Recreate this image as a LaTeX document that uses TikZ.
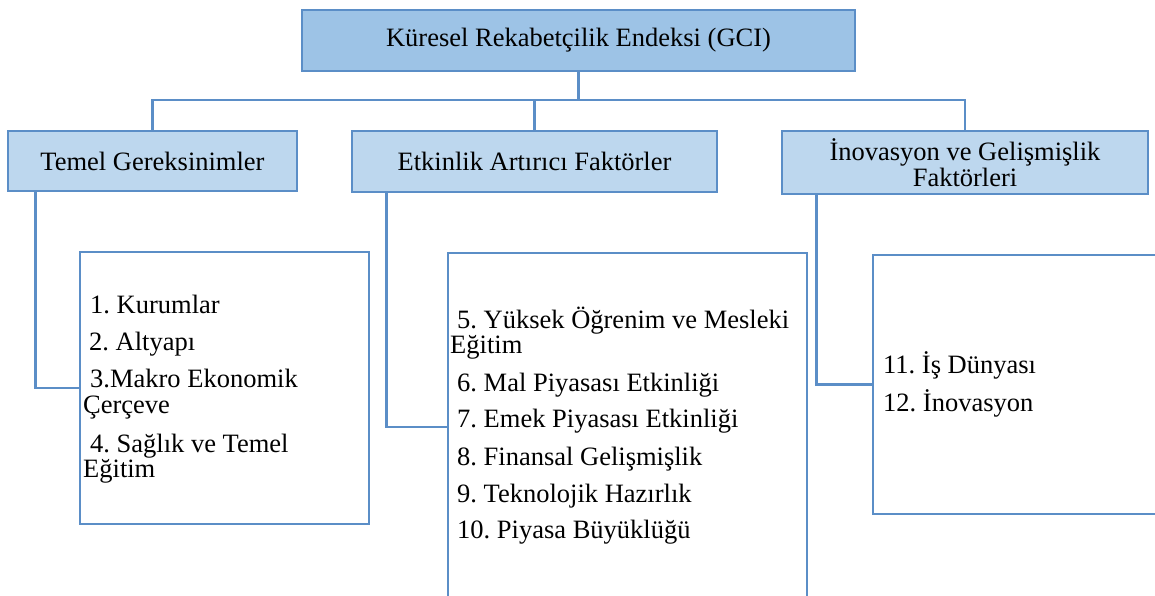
\documentclass[tikz,border=0pt]{standalone}
\usepackage{fontspec}
\setmainfont{Liberation Serif}
\usepackage{tikz}
\usetikzlibrary{positioning}
\definecolor{edgeblue}{HTML}{5B8EC7}
\definecolor{headblue}{HTML}{9DC3E6}
\definecolor{groupblue}{HTML}{BDD7EE}
\newcommand{\boxfont}{\fontsize{26.5}{26}\selectfont\frenchspacing}

\begin{document}
\begin{tikzpicture}[x=1pt,y=-1pt,
  box/.style={draw=edgeblue,line width=2.8pt,rectangle,inner sep=0pt,font=\boxfont},
  link/.style={draw=edgeblue,line width=2.8pt},
  item/.style={anchor=base west,inner sep=0pt,font=\boxfont}]
  \useasboundingbox (0,0) rectangle (1155,596);
  \clip (0,0) rectangle (1155,596);
  % top and group boxes
  \node[box,fill=headblue,minimum width=553,minimum height=61] (gci) at (578.5,40.5) {Küresel Rekabetçilik Endeksi (GCI)};
  \node[box,fill=groupblue,minimum width=289,minimum height=60] (temel) at (152.5,161) {Temel Gereksinimler};
  \node[box,fill=groupblue,minimum width=365,minimum height=61] (etkin) at (534.5,161.5) {Etkinlik Artırıcı Faktörler};
  \node[box,fill=groupblue,minimum width=366,minimum height=63,align=center] (inov) at (965,162.5) {İnovasyon ve Gelişmişlik\\Faktörleri};
  % list boxes
  \node[box,minimum width=289,minimum height=272] (listA) at (224.5,388) {};
  \node[box,minimum width=359,minimum height=348] (listB) at (627.5,427) {};
  \node[box,minimum width=297,minimum height=259] (listC) at (1021.5,384.5) {};
  % connectors
  \coordinate (bus) at (0,100);
  \draw[link] (gci.south) -- (gci.south |- bus);
  \draw[link] (temel.north) |- (inov.north |- bus) -- (inov.north);
  \draw[link] (etkin.north) -- (etkin.north |- bus);
  \draw[link] ([xshift=29]temel.south west) |- (listA.west);
  \draw[link] ([xshift=36]etkin.south west) |- (listB.west);
  \draw[link] ([xshift=36]inov.south west) |- (listC.west);
  % items
  \foreach \x/\y/\txt [count=\i] in {90/313/1. Kurumlar, 89/350/2. Altyapı,
      90/387/3.Makro Ekonomik, 83/413/Çerçeve, 90/452/4. Sağlık ve Temel, 83/477/Eğitim} {
    \node[item] (a\i) at (\x,\y) {\txt};
  }
  \foreach \x/\y/\txt [count=\i] in {457/328/5. Yüksek Öğrenim ve Mesleki, 450/353/Eğitim,
      457/391/6. Mal Piyasası Etkinliği, 457/427/7. Emek Piyasası Etkinliği,
      457/465/8. Finansal Gelişmişlik, 457/502/9. Teknolojik Hazırlık, 457/538/10. Piyasa Büyüklüğü} {
    \node[item] (b\i) at (\x,\y) {\txt};
  }
  \node[item] (c1) at (883,373) {11. İş Dünyası};
  \node[item] (c2) at (883,411) {12. İnovasyon};
\end{tikzpicture}
\end{document}
